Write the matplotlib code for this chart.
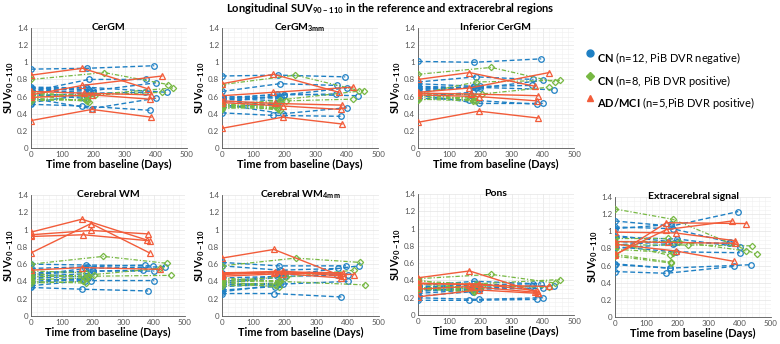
import matplotlib
matplotlib.use("Agg")
import matplotlib.pyplot as plt
from matplotlib.ticker import MultipleLocator

plt.rcParams['font.family'] = ['Lato', 'DejaVu Sans']
plt.rcParams['mathtext.fontset'] = 'custom'
plt.rcParams['mathtext.rm'] = 'Lato'
plt.rcParams['mathtext.bf'] = 'Lato:bold'
plt.rcParams['mathtext.default'] = 'bf'

# ---------------- data ----------------
# time points (days) per subject
blue_times = [[0, 180, 395], [0, 185, 370], [0, 200, 400], [0, 175, 435], [0, 195, 400],
              [0, 165, 380], [0, 180], [0, 170], [0, 190], [0, 175], [0, 200, 365], [0, 185]]
green_times = [[0, 235, 440], [0, 185, 455], [0, 205, 420], [0, 180], [0, 175], [0, 185],
               [0, 170], [0, 180]]
red_times = [[0, 165, 375], [0, 195, 385], [0, 165, 420], [0, 170, 385], [0, 195, 380]]

panel_titles = ["CerGM", r"CerGM$_{\mathbf{3mm}}$", "Inferior CerGM",
                "Cerebral WM", r"Cerebral WM$_{\mathbf{4mm}}$", "Pons", "Extracerebral signal"]

cergm_blue = [[0.92, 0.93, 0.96], [0.66, 0.80, 0.80], [0.69, 0.67, 0.76], [0.65, 0.71, 0.65],
              [0.58, 0.46, 0.58], [0.51, 0.49, 0.44], [0.71, 0.70], [0.63, 0.58], [0.67, 0.65],
              [0.53, 0.62], [0.61, 0.64, 0.65], [0.70, 0.68]]
cergm_green = [[0.80, 0.88, 0.74], [0.63, 0.62, 0.70], [0.60, 0.62, 0.65], [0.58, 0.55],
               [0.57, 0.56], [0.62, 0.54], [0.65, 0.60], [0.55, 0.57]]
cergm_red = [[0.85, 0.93, 0.69], [0.32, 0.45, 0.36], [0.62, 0.73, 0.84], [0.66, 0.64, 0.62],
             [0.59, 0.62, 0.57]]

cergm3_blue = [[0.84, 0.85, 0.83], [0.66, 0.75, 0.73], [0.59, 0.62, 0.70], [0.57, 0.63, 0.61],
               [0.51, 0.40, 0.47], [0.41, 0.38, 0.37], [0.60, 0.58], [0.55, 0.50], [0.56, 0.60],
               [0.47, 0.52], [0.53, 0.62, 0.63], [0.58, 0.55]]
cergm3_green = [[0.74, 0.85, 0.67], [0.50, 0.56, 0.67], [0.48, 0.55, 0.57], [0.49, 0.47],
                [0.46, 0.50], [0.52, 0.44], [0.50, 0.49], [0.47, 0.46]]
cergm3_red = [[0.75, 0.86, 0.65], [0.23, 0.36, 0.28], [0.61, 0.65, 0.71], [0.55, 0.52, 0.50],
              [0.53, 0.49, 0.45]]

infcergm_blue = [[1.01, 1.00, 1.04], [0.77, 0.83, 0.80], [0.72, 0.70, 0.79], [0.66, 0.71, 0.68],
                 [0.62, 0.52, 0.52], [0.58, 0.56, 0.51], [0.75, 0.72], [0.64, 0.62], [0.69, 0.71],
                 [0.60, 0.65], [0.68, 0.72, 0.73], [0.71, 0.70]]
infcergm_green = [[0.86, 0.94, 0.77], [0.63, 0.77, 0.79], [0.61, 0.63, 0.71], [0.60, 0.56],
                  [0.57, 0.55], [0.64, 0.55], [0.62, 0.58], [0.56, 0.60]]
infcergm_red = [[0.80, 0.88, 0.72], [0.30, 0.43, 0.35], [0.65, 0.70, 0.88], [0.64, 0.63, 0.61],
                [0.62, 0.60, 0.55]]

wm_blue = [[0.60, 0.59, 0.58], [0.55, 0.57, 0.59], [0.50, 0.52, 0.52], [0.47, 0.55, 0.57],
           [0.43, 0.41, 0.41], [0.33, 0.31, 0.29], [0.44, 0.46], [0.38, 0.43], [0.46, 0.49],
           [0.35, 0.41], [0.48, 0.52, 0.53], [0.40, 0.44]]
wm_green = [[0.60, 0.69, 0.61], [0.46, 0.46, 0.47], [0.45, 0.48, 0.55], [0.40, 0.38],
            [0.42, 0.44], [0.49, 0.45], [0.38, 0.40], [0.52, 0.50]]
wm_red = [[0.97, 1.12, 0.88], [0.73, 1.07, 0.73], [0.53, 0.56, 0.54], [0.92, 0.94, 0.87],
          [0.94, 0.99, 0.95]]

wm4_blue = [[0.62, 0.58, 0.58], [0.58, 0.53, 0.55], [0.50, 0.50, 0.48], [0.40, 0.46, 0.58],
            [0.37, 0.37, 0.40], [0.26, 0.26, 0.22], [0.36, 0.38], [0.30, 0.34], [0.38, 0.45],
            [0.28, 0.36], [0.44, 0.46, 0.47], [0.34, 0.37]]
wm4_green = [[0.58, 0.67, 0.62], [0.42, 0.40, 0.36], [0.41, 0.45, 0.53], [0.40, 0.33],
             [0.37, 0.38], [0.44, 0.40], [0.35, 0.36], [0.39, 0.41]]
wm4_red = [[0.67, 0.77, 0.47], [0.49, 0.52, 0.46], [0.48, 0.50, 0.48], [0.50, 0.51, 0.50],
           [0.46, 0.49, 0.44]]

pons_blue = [[0.34, 0.39, 0.36], [0.31, 0.35, 0.36], [0.29, 0.30, 0.31], [0.27, 0.32, 0.34],
             [0.20, 0.18, 0.20], [0.17, 0.17, 0.18], [0.30, 0.28], [0.25, 0.29], [0.32, 0.36],
             [0.22, 0.27], [0.28, 0.31, 0.33], [0.33, 0.30]]
pons_green = [[0.42, 0.47, 0.37], [0.39, 0.36, 0.41], [0.31, 0.34, 0.32], [0.30, 0.27],
              [0.41, 0.29], [0.36, 0.30], [0.29, 0.31], [0.32, 0.28]]
pons_red = [[0.43, 0.51, 0.27], [0.21, 0.29, 0.25], [0.37, 0.35, 0.33], [0.30, 0.33, 0.26],
            [0.36, 0.36, 0.28]]

extra_blue = [[1.12, 1.06, 1.23], [1.05, 1.03, 0.87], [0.93, 0.91, 0.82], [0.61, 0.57, 0.61],
              [0.82, 0.76, 0.75], [0.53, 0.51, 0.59], [1.03, 1.08], [0.84, 0.88], [0.88, 0.86],
              [0.62, 0.57], [0.95, 0.87, 0.86], [0.80, 0.85]]
extra_green = [[0.84, 0.84, 0.83], [1.26, 1.14, 0.73], [0.88, 0.88, 0.77], [0.73, 0.64],
               [0.86, 0.72], [0.79, 0.75], [0.92, 0.92], [0.71, 0.63]]
extra_red = [[0.73, 1.02, 1.12], [0.99, 0.98, 0.89], [0.72, 1.10, 1.09], [0.88, 0.87, 0.86],
             [0.85, 0.77, 0.65]]

panel_blue = [cergm_blue, cergm3_blue, infcergm_blue, wm_blue, wm4_blue, pons_blue, extra_blue]
panel_green = [cergm_green, cergm3_green, infcergm_green, wm_green, wm4_green, pons_green, extra_green]
panel_red = [cergm_red, cergm3_red, infcergm_red, wm_red, wm4_red, pons_red, extra_red]

legend_labels = [r"$\mathbf{CN}$ (n=12, PiB DVR negative)",
                 r"$\mathbf{CN}$ (n=8, PiB DVR positive)",
                 r"$\mathbf{AD/MCI}$ (n=5,PiB DVR positive)"]

# ---------------- style ----------------
BLUE = '#1f80c4'
GREEN = '#77b843'
RED = '#f25c3a'
W, H = 780, 344

fig = plt.figure(figsize=(7.8, 3.44), dpi=100)

# axes boxes in pixel coords: (left, top, right, bottom)
boxes = [(31, 28, 187, 148), (222, 28, 378, 148), (418, 28, 574, 148),
         (31, 195, 185, 316), (222, 195, 379, 316), (418, 194, 574, 315),
         (615, 197, 771, 317)]

def px(b):
    l, t, r, bt = b
    return [l / W, 1 - bt / H, (r - l) / W, (bt - t) / H]

for i, b in enumerate(boxes):
    ax = fig.add_axes(px(b))
    for times, vals in zip(blue_times, panel_blue[i]):
        ax.plot(times, vals, linestyle=(0, (3.5, 2)), color=BLUE, lw=1.0,
                marker='o', ms=4, mfc='none', mec=BLUE, mew=0.9, zorder=3)
    for times, vals in zip(green_times, panel_green[i]):
        ax.plot(times, vals, linestyle=(0, (3.5, 1.5, 1, 1.5)), color=GREEN, lw=0.9,
                marker='D', ms=3.2, mfc='none', mec=GREEN, mew=0.9, zorder=3)
    for times, vals in zip(red_times, panel_red[i]):
        ax.plot(times, vals, linestyle='-', color=RED, lw=1.0,
                marker='^', ms=4, mfc='none', mec=RED, mew=0.9, zorder=4)
    ax.set_xlim(0, 500)
    ax.set_ylim(0, 1.4)
    ax.xaxis.set_major_locator(MultipleLocator(100))
    ax.yaxis.set_major_locator(MultipleLocator(0.2))
    ax.xaxis.set_minor_locator(MultipleLocator(20))
    ax.yaxis.set_minor_locator(MultipleLocator(0.05))
    ax.grid(which='major', color='#e4e4e4', lw=0.5)
    ax.grid(which='minor', color='#efefef', lw=0.4)
    ax.set_axisbelow(True)
    for s in ['top', 'right']:
        ax.spines[s].set_visible(False)
    for s in ['left', 'bottom']:
        ax.spines[s].set_color('#555555')
        ax.spines[s].set_linewidth(0.6)
    ax.tick_params(which='both', length=0, labelsize=5.8, labelcolor='#555555', pad=2)
    ax.set_yticks([0, 0.2, 0.4, 0.6, 0.8, 1.0, 1.2, 1.4])
    ax.set_yticklabels(['0', '0.2', '0.4', '0.6', '0.8', '1', '1.2', '1.4'])
    ax.text(0.5, 1.005, panel_titles[i], transform=ax.transAxes, ha='center', va='center',
            fontsize=7.5, fontweight='bold', zorder=6)
    ax.set_xlabel('Time from baseline (Days)', fontsize=7.8, fontweight='bold', labelpad=1)
    ax.set_ylabel(r'SUV$_{\mathbf{90-110}}$', fontsize=7.8, fontweight='bold', labelpad=1)

fig.text(0.5, 1 - 9 / H,
         r'Longitudinal SUV$_{\mathbf{90-110}}$ in the reference and extracerebral regions',
         ha='center', va='center', fontsize=8, fontweight='bold')

# legend
leg_colors = [BLUE, GREEN, RED]
leg_markers = ['o', 'D', '^']
leg_ms = [5, 4, 4.5]
leg_y = [58, 81, 103]
for c, m, s, y, lab in zip(leg_colors, leg_markers, leg_ms, leg_y, legend_labels):
    fig.lines.append(plt.Line2D([590 / W], [1 - (y - 5) / H], marker=m, ms=s, color=c,
                                mec=c, mfc=c, ls='none', transform=fig.transFigure))
    fig.text(597 / W, 1 - y / H, lab, ha='left', va='center', fontsize=8)

fig.savefig('out.png', dpi=100)
